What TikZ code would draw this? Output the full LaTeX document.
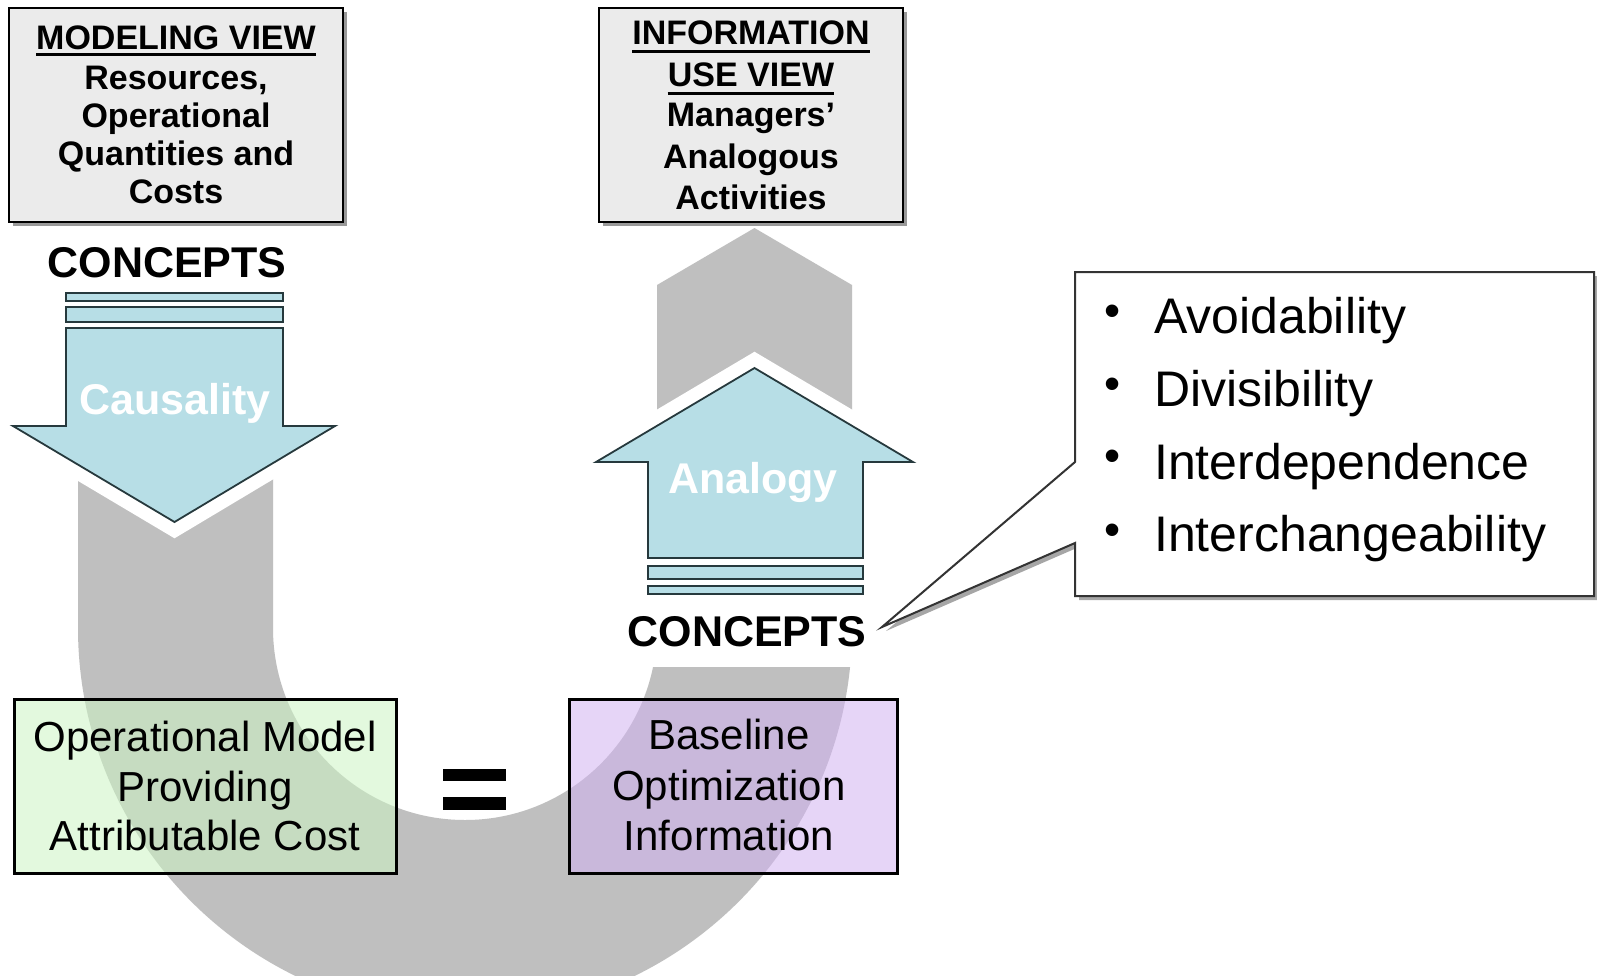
\documentclass[tikz,border=0pt]{standalone}
\usepackage{fontspec}
\setmainfont{Liberation Sans}
\usetikzlibrary{calc,shadows}
\definecolor{ugray}{HTML}{BFBFBF}
\definecolor{arrowblue}{HTML}{B7DEE6}
\definecolor{arrowline}{HTML}{26393D}
\definecolor{boxgray}{HTML}{EBEBEB}
\definecolor{mgreen}{HTML}{CCF5C3}
\definecolor{mpurple}{HTML}{D3B4F2}
\begin{document}
\begin{tikzpicture}[x=1pt,y=-1pt,
  tbox/.style={draw=black, line width=2, fill=boxgray, inner sep=0,
    drop shadow={shadow xshift=4pt, shadow yshift=-4pt, opacity=0.4, fill=black}},
  bbox/.style={draw=black, line width=3, inner sep=0, fill opacity=0.55},
  bigarrow/.style={fill=arrowblue, draw=arrowline, line width=1.8,
    preaction={draw=white, line width=28}},
  barstyle/.style={fill=arrowblue, draw=arrowline, line width=1.8},
  txt/.style={inner sep=0, anchor=base},
  hb/.style={txt, font=\bfseries\fontsize{34}{40}\selectfont},
  concept/.style={txt, font=\bfseries\fontsize{43}{50}\selectfont},
  alabel/.style={txt, text=white, font=\bfseries\fontsize{43}{50}\selectfont},
  btxt/.style={txt, font=\fontsize{42}{50}\selectfont},
  ltxt/.style={txt, anchor=base west, font=\fontsize{50}{60}\selectfont},
  bul/.style={inner sep=0, font=\fontsize{46}{50}\selectfont},
  uline/.style={line width=3}
]
\useasboundingbox (0,0) rectangle (1597,975);
\fill[white] (0,0) rectangle (1597,975);

% gray U-shaped arrow
\fill[ugray] (78,440) -- (78,628) arc[start angle=180, end angle=0, radius=387]
  -- (852,285) -- (754.5,228) -- (657,285) -- (657,628)
  arc[start angle=0, end angle=180, radius=192] -- (273,440) -- cycle;
% white band under lower CONCEPTS
\fill[white] (638,556) rectangle (872,667);

% top boxes
\node[tbox, minimum width=334, minimum height=214] (mv) at (176,115) {};
\node[tbox, minimum width=304, minimum height=214] (iu) at (751,115) {};

% box 1 text
\node[hb] (mv1) at (176,49) {MODELING VIEW};
\draw[uline] ($(mv1.base west)+(0,5)$) -- ($(mv1.base east)+(0,5)$);
\node[hb] (mv2) at (176,89) {Resources,};
\node[hb] (mv3) at (176,127) {Operational};
\node[hb] (mv4) at (176,165) {Quantities and};
\node[hb] (mv5) at (176,203) {Costs};

% box 2 text
\node[hb] (iu1) at (751,44) {INFORMATION};
\draw[uline] ($(iu1.base west)+(0,7)$) -- ($(iu1.base east)+(0,7)$);
\node[hb] (iu2) at (751,86) {USE VIEW};
\draw[uline] ($(iu2.base west)+(0,7)$) -- ($(iu2.base east)+(0,7)$);
\node[hb] (iu3) at (751,126) {Managers’};
\node[hb] (iu4) at (751,168) {Analogous};
\node[hb] (iu5) at (751,209) {Activities};

% Causality arrow
\draw[bigarrow] (66,328) -- (283,328) -- (283,426) -- (335,426) -- (174.5,522)
  -- (13,426) -- (66,426) -- cycle;
\draw[barstyle] (66,293) rectangle (283,301);
\draw[barstyle] (66,307) rectangle (283,322);
\node[alabel] (caus) at (175,414) {Causality};
\node[concept] (c1) at (167,277) {CONCEPTS};

% Analogy arrow
\draw[bigarrow] (648,558) -- (863,558) -- (863,462) -- (913,462) -- (754.5,368)
  -- (596,462) -- (648,462) -- cycle;
\draw[barstyle] (648,566) rectangle (863,579);
\draw[barstyle] (648,586) rectangle (863,594);
\node[alabel] (anal) at (753,493) {Analogy};
\node[concept] (c2) at (747,646) {CONCEPTS};

% callout
\coordinate (apex) at (882,627);
\draw[line width=2, draw=black!80, fill=white,
  drop shadow={shadow xshift=4pt, shadow yshift=-4pt, opacity=0.35, fill=black}]
  (1075,272) -- (1594,272) -- (1594,596) -- (1075,596) -- (1075,543)
  -- (apex) -- (1075,462) -- cycle;
\node[bul] (b1) at (1113,316) {•};
\node[bul] (b2) at (1113,389) {•};
\node[bul] (b3) at (1113,461) {•};
\node[bul] (b4) at (1113,535) {•};
\node[ltxt] (l1) at (1154,333) {Avoidability};
\node[ltxt] (l2) at (1154,406) {Divisibility};
\node[ltxt] (l3) at (1154,479) {Interdependence};
\node[ltxt] (l4) at (1154,551) {Interchangeability};

% bottom boxes
\node[bbox, fill=mgreen, minimum width=382, minimum height=174] (om) at (205,786) {};
\node[bbox, fill=mpurple, minimum width=328, minimum height=174] (bo) at (733,786) {};
\node[btxt] (om1) at (205,751) {Operational Model};
\node[btxt] (om2) at (205,801) {Providing};
\node[btxt] (om3) at (205,850) {Attributable Cost};
\node[btxt] (bo1) at (729,749) {Baseline};
\node[btxt] (bo2) at (729,800) {Optimization};
\node[btxt] (bo3) at (729,850) {Information};

% equals sign
\fill[black] (443,769) rectangle (506,781);
\fill[black] (443,797) rectangle (506,810);
\end{tikzpicture}
\end{document}
